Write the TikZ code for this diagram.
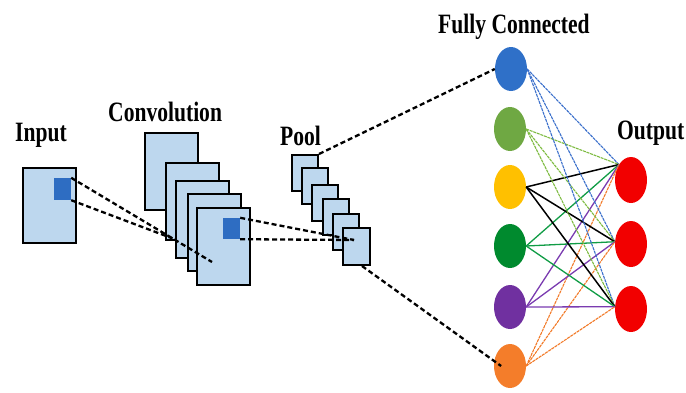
\documentclass[tikz,border=0pt]{standalone}
\usepackage{fontspec}
\usetikzlibrary{shapes.geometric,calc}
\newfontfamily\labelfont[FakeStretch=0.77]{Liberation Serif}

\definecolor{paneFill}{HTML}{BDD7EE}
\definecolor{patchBlue}{HTML}{2E6DC2}
\definecolor{fcBlue}{HTML}{2F70C8}
\definecolor{fcLime}{HTML}{6FA843}
\definecolor{fcYellow}{HTML}{FFC000}
\definecolor{fcGreen}{HTML}{008A2E}
\definecolor{fcPurple}{HTML}{7030A0}
\definecolor{fcOrange}{HTML}{F47D2A}
\definecolor{outRed}{HTML}{F20000}
\definecolor{wBlue}{HTML}{3A6FCB}
\definecolor{wLime}{HTML}{7DBB40}
\definecolor{wGreen}{HTML}{109C45}
\definecolor{wPurple}{HTML}{7A3BB0}
\definecolor{wOrange}{HTML}{F27A28}

\begin{document}
\begin{tikzpicture}[x=1pt,y=-1pt,
  pane/.style={draw=black,line width=2pt,fill=paneFill,inner sep=0pt,
    minimum width=53pt,minimum height=77pt},
  poolpane/.style={pane,minimum width=26pt,minimum height=36pt},
  patch/.style={draw=none,fill=patchBlue,inner sep=0pt,
    minimum width=17pt,minimum height=21pt},
  link/.style={draw=black,line width=2.3pt,dash pattern=on 5pt off 3pt},
  neuron/.style={ellipse,draw=none,inner sep=0pt,
    minimum width=32pt,minimum height=44pt},
  title/.style={anchor=base west,inner sep=0pt,
    font=\labelfont\bfseries\fontsize{28}{30}\selectfont},
  wire/.style={line width=1.1pt,dash pattern=on 3pt off 0.8pt},
]
\useasboundingbox (0,0) rectangle (686,392);

% labels
\node[title] (tin)   at (15,141)  {Input};
\node[title] (tconv) at (108,121) {Convolution};
\node[title] (tpool) at (280,145) {Pool};
\node[title] (tfc)   at (438,33)  {Fully Connected};
\node[title] (tout)  at (617,139) {Output};

% input image with its receptive field
\node[pane,minimum height=75pt] (in) at (49.5,205.5) {};
\node[patch,minimum height=22pt] (insq) at (62.5,189) {};

% stack of convolution feature maps
\node[pane] (c1) at (171.5,171.5) {};
\node[pane] (c2) at (192.5,201.5) {};
\node[pane] (c3) at (202.5,219.5) {};
\node[pane] (c4) at (214.5,232.5) {};
\node[pane] (c5) at (223.5,246.5) {};
\node[patch] (csq) at (231.5,228.5) {};

% stack of pooled maps
\node[poolpane] (p1) at (305,173) {};
\node[poolpane] (p2) at (314.5,186) {};
\node[poolpane] (p3) at (324.5,203) {};
\node[poolpane] (p4) at (336,217) {};
\node[poolpane] (p5) at (346,232) {};
\node[poolpane,minimum width=27pt,minimum height=37pt] (p6) at (356.5,246.5) {};

% fully connected layer
\node[neuron,fill=fcBlue]   (f1) at (511,69) {};
\node[neuron,fill=fcLime]   (f2) at (510,129) {};
\node[neuron,fill=fcYellow] (f3) at (510,187) {};
\node[neuron,fill=fcGreen]  (f4) at (510,246) {};
\node[neuron,fill=fcPurple] (f5) at (510,307) {};
\node[neuron,fill=fcOrange] (f6) at (510,366) {};

% output layer
\node[neuron,fill=outRed,minimum height=46pt] (o1) at (631,180) {};
\node[neuron,fill=outRed,minimum height=46pt] (o2) at (631,244) {};
\node[neuron,fill=outRed,minimum height=46pt] (o3) at (631,309) {};

\coordinate (t1) at (o1.128);
\coordinate (t2) at (o2.172);
\coordinate (t3) at (o3.172);

% dense connections
\foreach \j in {1,2,3} {
  \draw[wire,wBlue]   (f1.east) -- (t\j);
  \draw[wire,wLime]   (f2.east) -- (t\j);
  \draw[black,line width=1.5pt] (f3.east) -- (t\j);
  \draw[wGreen,line width=1.3pt] (f4.east) -- (t\j);
  \draw[wPurple,line width=1.3pt] (f5.east) -- (t\j);
  \draw[wire,wOrange] (f6.east) -- (t\j);
}

% receptive-field projections
\coordinate (cv) at (212,262);
\draw[link] (insq.north east) -- (cv);
\draw[link] (insq.south east) -- ($(insq.north east)!0.72!(cv)$);

\coordinate (pv) at (354,240);
\draw[link] (csq.north east) -- (pv);
\draw[link] (csq.south east) -- (pv);

\draw[link] (p1.north east) -- (f1.west);
\draw[link] ([xshift=-9pt]p6.south east) -- ($(f6.west)!0.45!(f6.center)$);
\end{tikzpicture}
\end{document}
